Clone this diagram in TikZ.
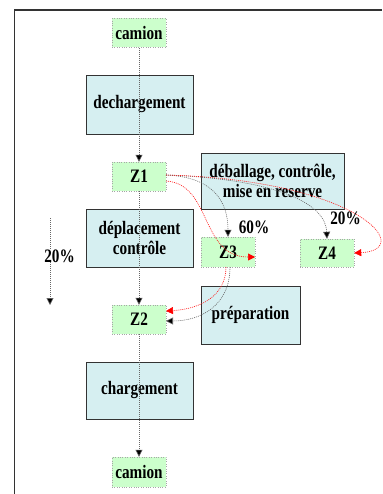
\documentclass[tikz,border=0pt]{standalone}
\usepackage{fontspec}
\setmainfont{Liberation Serif}[FakeStretch=0.8]
\usetikzlibrary{arrows.meta}
\begin{document}
\begin{tikzpicture}[x=1pt,y=-1pt,
  every node/.style={font=\fontsize{19}{20}\selectfont\bfseries, inner sep=0pt, align=center},
  zone/.style={draw=gray!70, dotted, fill=zonegreen, minimum width=54pt, minimum height=29pt},
  task/.style={draw=black!80, line width=0.8pt, fill=taskblue},
  flow/.style={draw=gray!80!black, line width=0.6pt, dash pattern=on 1pt off 1pt,
    -{Triangle[width=7pt,length=7pt,fill=black]}},
  redflow/.style={draw=red!90, line width=0.6pt, dash pattern=on 1pt off 1pt,
    -{Triangle[width=7pt,length=7pt,fill=red,color=red]}},
  pct/.style={fill=white}]
\definecolor{zonegreen}{HTML}{CCFFCC}
\definecolor{taskblue}{HTML}{D6EFF1}
\useasboundingbox (0,0) rectangle (382,494);
% outer frame
\draw[black!80, line width=1.1pt] (14.5,494) -- (14.5,10) -- (382,10);

% process boxes
\node[task, minimum width=107pt, minimum height=59pt] (dech) at (139.5,104.5) {dechargement};
\node[task, minimum width=143pt, minimum height=56pt] (deba) at (272.5,181) {déballage, contrôle,\\mise en reserve};
\node[task, minimum width=107pt, minimum height=58pt] (depl) at (139.5,238) {déplacement\\contrôle};
\node[task, minimum width=99pt, minimum height=58pt] (prep) at (250.5,315) {préparation};
\node[task, minimum width=107pt, minimum height=57pt] (charg) at (139.5,390.5) {chargement};

% zones
\node[zone] (cam1) at (139,33) {camion};
\node[zone] (z1) at (139,176.5) {Z1};
\node[zone, minimum height=30pt] (z3) at (228,252) {Z3};
\node[zone, minimum height=28pt] (z4) at (327,253) {Z4};
\node[zone] (z2) at (139,319.5) {Z2};
\node[zone, minimum height=30pt] (cam2) at (139,472) {camion};

% main flow
\draw[flow] (cam1.south) -- (z1.north);
\draw[flow] (z1.south) -- (z2.north);
\draw[flow] (z2.south) -- (cam2.north);

% share of direct flow
\coordinate (lt) at (50,218);
\coordinate (lb) at (50,305);
\draw[flow] (lt) -- (lb);
\node[pct] (p20l) at (59.5,256) {20\%};

% flows from Z1
\coordinate (z1a) at (166,175);
\coordinate (z1b) at (166,181);
\draw[flow] (z1a) .. controls (212,177) and (228,200) .. (z3.north);
\draw[flow] (z1a) .. controls (250,178) and (325,195) .. (z4.north);
\draw[redflow] (z1b) .. controls (212,184) and (200,257) .. (255,257);
\draw[redflow] (z1a) .. controls (360,180) and (416,250) .. (z4.east);
\node (p60) at (254,227) {60\%};
\node (p20r) at (345.5,218) {20\%};

% flows from Z3 back to Z2
\coordinate (z3a) at (226,267);
\coordinate (z3b) at (230,267);
\draw[redflow] (z3a) .. controls (226,296) and (200,309) .. (166,311);
\draw[flow] (z3b) .. controls (230,306) and (200,321) .. (166,321);
\end{tikzpicture}
\end{document}
